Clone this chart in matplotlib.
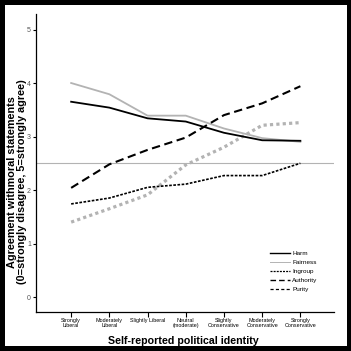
import matplotlib
matplotlib.use("Agg")
import matplotlib.pyplot as plt
from matplotlib.lines import Line2D
from matplotlib.patches import Rectangle

plt.rcParams['font.family'] = ['Liberation Sans', 'DejaVu Sans']

# Categories on the x axis
categories = ["Strongly\nLiberal", "Moderately\nLiberal", "Slightly Liberal",
              "Neutral\n(moderate)", "Slightly\nConservative",
              "Moderately\nConservative", "Strongly\nConservative"]

# Mean agreement for each foundation
harm = [3.65, 3.54, 3.34, 3.28, 3.07, 2.93, 2.92]
fairness = [4.0, 3.79, 3.39, 3.39, 3.15, 2.97, 2.9]
ingroup = [1.74, 1.85, 2.05, 2.11, 2.27, 2.27, 2.5]
authority = [2.04, 2.48, 2.75, 2.98, 3.4, 3.62, 3.94]
purity = [1.4, 1.65, 1.91, 2.47, 2.8, 3.21, 3.26]

yTicks = [0, 1, 2, 3, 4, 5]
midline = 2.5

GRAY = '#b3b3b3'


# Draws the black frame round the white page
def drawFrame(fig):
    fig.patch.set_facecolor('black')
    page = Rectangle((5/351, 5/351), 342/351, 341/351, transform=fig.transFigure,
                     facecolor='white', edgecolor='none', zorder=-10)
    fig.patches.append(page)


def main():
    fig = plt.figure(figsize=(3.51, 3.51), dpi=100)
    drawFrame(fig)

    ax = fig.add_axes([36/351, 1 - 312/351, 298/351, 298/351])
    ax.set_zorder(1)
    ax.patch.set_alpha(0)

    x = list(range(len(categories)))

    # Reference line at the scale midpoint
    ax.axhline(midline, color=GRAY, lw=0.8, zorder=1)

    ax.plot(x, fairness, color=GRAY, lw=1.3, zorder=2)
    ax.plot(x, purity, color=GRAY, lw=2.3, dashes=(1, 1), dash_capstyle='butt', zorder=2)
    ax.plot(x, harm, color='black', lw=1.3, zorder=3)
    ax.plot(x, ingroup, color='black', lw=1.2, dashes=(1.6, 0.9), zorder=3)
    ax.plot(x, authority, color='black', lw=1.5, dashes=(4, 2.2), zorder=3)

    ax.set_xlim(-0.92, 6.88)
    ax.set_ylim(-0.28, 5.29)

    ax.spines['top'].set_visible(False)
    ax.spines['right'].set_visible(False)
    for s in ['left', 'bottom']:
        ax.spines[s].set_linewidth(0.9)

    ax.set_yticks(yTicks)
    ax.set_yticklabels([str(t) for t in yTicks], fontsize=5, color='#555555')
    ax.tick_params(axis='y', length=2.2, width=0.8, pad=1.5)

    ax.set_xticks(x)
    ax.set_xticklabels(categories, fontsize=3.9, linespacing=0.95)
    ax.tick_params(axis='x', length=3.6, width=0.8, pad=1)

    # Axis titles
    fig.text(17/351, 1 - 182/351,
             "Agreement withmoral statements\n(0=strongly disagree, 5=strongly agree)",
             rotation=90, ha='center', va='center', fontsize=7.8,
             fontweight='bold', linespacing=0.95, zorder=5)
    fig.text(183/351, 1 - 341/351, "Self-reported political identity",
             ha='center', va='center', fontsize=7.7, fontweight='bold', zorder=5)

    # Legend with its own handle styles
    handles = [Line2D([], [], color='black', lw=1.0),
               Line2D([], [], color=GRAY, lw=0.7),
               Line2D([], [], color='black', lw=0.9, dashes=(1.6, 0.9)),
               Line2D([], [], color='black', lw=1.0, dashes=(4, 2.2)),
               Line2D([], [], color='black', lw=0.9, dashes=(2.5, 1.8))]
    labels = ["Harm", "Fairness", "Ingroup", "Authority", "Purity"]
    ax.legend(handles, labels, loc='upper left', bbox_to_anchor=(266/351, 1 - 246/351),
              bbox_transform=fig.transFigure, frameon=False, fontsize=4.6,
              handlelength=3.0, handletextpad=0.4, labelspacing=0.55,
              borderpad=0.2)

    fig.savefig("out.png", dpi=100)


main()
